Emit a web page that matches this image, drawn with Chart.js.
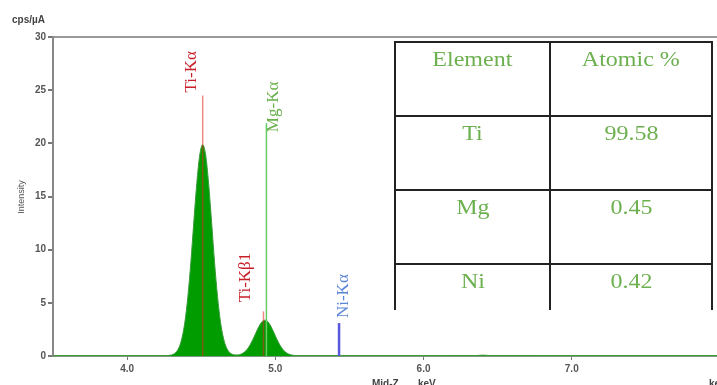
<!DOCTYPE html>
<html>
<head>
<meta charset="utf-8">
<script src="https://cdn.jsdelivr.net/npm/chart.js@4/dist/chart.umd.min.js"></script>
<style>
  body { margin: 0; background: #fff; overflow: hidden; }
  #wrap { position: relative; width: 717px; height: 385px; }
  #quant {
    position: absolute; left: 394px; top: 41px; width: 317px;
    border-collapse: collapse; table-layout: fixed;
    font-family: "Liberation Serif", "Times New Roman", serif;
    font-size: 20px; color: #6cb04f;
  }
  #quant td {
    border: 2px solid #222; text-align: center; vertical-align: top;
    padding: 5px 0 0 0;
  }
  #quant td span { display: inline-block; transform: scaleX(1.2); }
  #quant tr:last-child td { border-bottom: none; }
</style>
</head>
<body>
<div id="wrap">
  <canvas id="eds"></canvas>
  <table id="quant"><colgroup><col style="width:155px"><col style="width:162px"></colgroup></table>
</div>
<script>
// spectrum (keV / cps per uA)
const energies = [3.50, 4.00, 4.25, 4.27, 4.29, 4.31, 4.33, 4.35, 4.37, 4.39, 4.41, 4.43, 4.45, 4.47, 4.49,
  4.51, 4.53, 4.55, 4.57, 4.59, 4.61, 4.63, 4.65, 4.67, 4.69, 4.71, 4.73, 4.75, 4.77, 4.79, 4.81, 4.83,
  4.85, 4.87, 4.89, 4.91, 4.93, 4.95, 4.97, 4.99, 5.01, 5.03, 5.05, 5.07, 5.09, 5.11, 5.13, 5.15, 5.30,
  6.00, 6.35, 6.40, 6.45, 7.00, 7.98];
const counts = [0.03, 0.03, 0.03, 0.04, 0.07, 0.15, 0.35, 0.80, 1.68, 3.20, 5.60, 8.80, 12.60, 16.20, 18.90,
  19.87, 18.90, 16.20, 12.60, 8.80, 5.60, 3.20, 1.68, 0.80, 0.35, 0.16, 0.10, 0.10, 0.18, 0.35, 0.63, 1.05,
  1.59, 2.21, 2.79, 3.22, 3.37, 3.22, 2.79, 2.21, 1.59, 1.05, 0.63, 0.35, 0.18, 0.09, 0.05, 0.03, 0.03,
  0.03, 0.04, 0.08, 0.04, 0.03, 0.03];

// identified lines
const lineNames = ['Ti-Kα', 'Ti-Kβ1', 'Mg-Kα', 'Ni-Kα'];
const lineEnergies = [4.51, 4.92, 4.94, 5.43];
const lineHeights = [24.5, 4.2, 21.9, 3.1];

const xTicks = [4, 5, 6, 7];
const yTicks = [0, 5, 10, 15, 20, 25, 30];

const elements = ['Ti', 'Mg', 'Ni'];
const atomicPct = ['99.58', '0.45', '0.42'];

// styles for the lines & their labels
const lineColors = ['rgba(232,40,40,0.55)', 'rgba(232,40,40,0.55)', '#66cc66', '#5858dc'];
const lineWidths = [1.5, 1.5, 1.5, 2.5];
const labelColors = ['#c8202a', '#c8202a', '#6ab04c', '#5b86d6'];
const labelOffsets = [[-7, -3], [-13, -9], [12, 9], [9, -5]]; // dx, dy from line top

// table
const tbl = document.getElementById('quant');
const rowH = [74, 74, 74, 46];
const rows = [['Element', 'Atomic %']].concat(elements.map((e, i) => [e, atomicPct[i]]));
rows.forEach((r, i) => {
  const tr = document.createElement('tr');
  tr.style.height = rowH[i] + 'px';
  r.forEach((txt) => {
    const td = document.createElement('td');
    const sp = document.createElement('span');
    sp.textContent = txt;
    td.appendChild(sp);
    tr.appendChild(td);
  });
  tbl.appendChild(tr);
});

const lineSets = lineNames.map((n, i) => ({
  label: n,
  data: [{ x: lineEnergies[i], y: 0 }, { x: lineEnergies[i], y: lineHeights[i] }],
  borderColor: lineColors[i],
  borderWidth: lineWidths[i],
  pointRadius: 0,
  fill: false,
  order: 0
}));

const extraText = {
  id: 'extraText',
  afterDraw(chart) {
    const { ctx, scales } = chart;
    ctx.save();
    // peak labels
    ctx.font = '17px "Liberation Serif", "Times New Roman", serif';
    ctx.textBaseline = 'alphabetic';
    ctx.textAlign = 'left';
    lineNames.forEach((n, i) => {
      const px = scales.x.getPixelForValue(lineEnergies[i]) + labelOffsets[i][0];
      const py = scales.y.getPixelForValue(lineHeights[i]) + labelOffsets[i][1];
      ctx.save();
      ctx.translate(px, py);
      ctx.rotate(-Math.PI / 2);
      ctx.fillStyle = labelColors[i];
      ctx.fillText(n, 0, 0);
      ctx.restore();
    });
    // axis captions
    ctx.fillStyle = '#444';
    ctx.font = 'bold 10px "Liberation Sans", Arial, sans-serif';
    ctx.textBaseline = 'top';
    ctx.fillText('cps/µA', 12, 15);
    ctx.fillText('Mid-Z', 372, 379);
    ctx.fillText('keV', 418, 379);
    ctx.fillText('keV', 709, 379);
    ctx.save();
    ctx.translate(22, 197);
    ctx.rotate(-Math.PI / 2);
    ctx.textAlign = 'center';
    ctx.textBaseline = 'middle';
    ctx.font = '9px "Liberation Sans", Arial, sans-serif';
    ctx.fillStyle = '#555';
    ctx.fillText('Intensity', 0, 0);
    ctx.restore();
    ctx.restore();
  }
};

new Chart(document.getElementById('eds'), {
  type: 'line',
  data: {
    datasets: [{
      label: 'Spectrum',
      data: energies.map((e, i) => ({ x: e, y: counts[i] })),
      borderColor: '#3a9a3a',
      borderWidth: 1,
      backgroundColor: '#009c00',
      fill: 'origin',
      pointRadius: 0,
      cubicInterpolationMode: 'monotone',
      order: 2
    }].concat(lineSets)
  },
  options: {
    responsive: true,
    maintainAspectRatio: false,
    animation: false,
    layout: { padding: { top: 37, right: 0, left: 0, bottom: 0 } },
    plugins: { legend: { display: false }, tooltip: { enabled: false } },
    scales: {
      x: {
        type: 'linear',
        min: 3.5,
        max: 7.98,
        afterBuildTicks: (s) => { s.ticks = xTicks.map(v => ({ value: v })); },
        afterFit: (s) => { s.height = 29; },
        ticks: {
          callback: (v) => Number(v).toFixed(1),
          color: '#555',
          font: { family: '"Liberation Sans", Arial, sans-serif', size: 10, weight: 'bold' },
          padding: 3,
          maxRotation: 0
        },
        grid: { drawOnChartArea: false, tickLength: 4, tickColor: '#777', lineWidth: 1 },
        border: { color: '#7a9a7a', width: 2 }
      },
      y: {
        min: 0,
        max: 30,
        afterBuildTicks: (s) => { s.ticks = yTicks.map(v => ({ value: v })); },
        afterFit: (s) => { s.width = 53; },
        ticks: {
          color: '#555',
          font: { family: '"Liberation Sans", Arial, sans-serif', size: 10, weight: 'bold' },
          padding: 2
        },
        grid: {
          color: (c) => (c.tick && c.tick.value === 30 ? '#999' : 'rgba(0,0,0,0)'),
          lineWidth: 2,
          tickLength: 5,
          tickColor: '#777'
        },
        border: { color: '#888', width: 2 }
      }
    }
  },
  plugins: [extraText]
});
</script>
</body>
</html>
